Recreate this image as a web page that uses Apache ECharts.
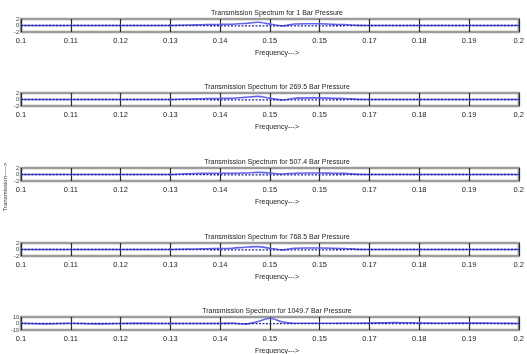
<!DOCTYPE html>
<html>
<head>
<meta charset="utf-8">
<script src="https://cdn.jsdelivr.net/npm/echarts@6/dist/echarts.min.js"></script>
<style>
  html, body { margin: 0; padding: 0; background: #fff; }
  #chart { width: 527px; height: 354px; }
</style>
</head>
<body>
<div id="chart"></div>
<script>
// Frequency samples shared by every panel
const freq = [0.100, 0.105, 0.110, 0.115, 0.120, 0.125, 0.130, 0.1325, 0.135, 0.1375,
  0.140, 0.1425, 0.145, 0.1475, 0.150, 0.1525, 0.155, 0.1575, 0.160, 0.1625,
  0.165, 0.1675, 0.170, 0.175, 0.180, 0.185, 0.190, 0.195, 0.200];

const freqTicks = ['0.1', '0.11', '0.12', '0.13', '0.14', '0.15', '0.15', '0.17', '0.18', '0.19', '0.2'];

const pressures = ['1', '269.5', '507.4', '768.5', '1049.7'];

// Transmission (solid trace) per pressure
const trans1 = [0, 0, 0, 0, 0, 0, 0, 0.1, 0.2, 0.3, 0.35, 0.4, 0.6, 1.0, 0.45, -0.1, 0.45, 0.55, 0.55, 0.35, 0.3, 0.05, 0, 0, 0, 0, 0, 0, 0];
const trans2 = [0, 0, 0, 0, 0, 0, 0, 0.1, 0.2, 0.3, 0.35, 0.4, 0.65, 0.95, 0.4, -0.15, 0.4, 0.5, 0.5, 0.4, 0.3, 0.05, 0, 0, 0, 0, 0, 0, 0];
const trans3 = [0, 0, 0, 0, 0, 0, 0, 0.15, 0.3, 0.35, 0.4, 0.4, 0.45, 0.65, 0.45, 0.15, 0.4, 0.45, 0.45, 0.4, 0.35, 0.05, 0, 0, 0, 0, 0, 0, 0];
const trans4 = [0, 0, 0, 0, 0, 0, 0, 0.1, 0.15, 0.25, 0.3, 0.4, 0.7, 0.9, 0.4, -0.1, 0.4, 0.45, 0.45, 0.4, 0.3, 0.05, 0, 0, 0, 0, 0, 0, 0];
const trans5 = [0.4, -0.6, 0.4, -0.6, 0, 0.2, 0, 0, 0, 0, 0, 0.3, -1.0, 2.8, 8.0, 2.2, 0.4, 0.5, 0.5, 0.4, 0.4, 0.3, 0.6, 1.4, 0.8, 0.3, 0.8, 0.4, 0];

// Reference (dotted trace) per pressure
const ref1 = [0, 0, 0, 0, 0, 0, 0, 0, -0.05, -0.05, -0.1, -0.1, -0.1, -0.1, -0.1, -0.1, -0.1, -0.1, -0.1, -0.1, -0.05, 0, 0, 0, 0, 0, 0, 0, 0];
const ref2 = [0, 0, 0, 0, 0, 0, 0, 0, -0.05, -0.05, -0.1, -0.1, -0.1, -0.1, -0.1, -0.1, -0.1, -0.1, -0.1, -0.1, -0.05, 0, 0, 0, 0, 0, 0, 0, 0];
const ref3 = [0, 0, 0, 0, 0, 0, 0, 0, -0.05, -0.05, -0.1, -0.1, -0.1, -0.1, -0.1, -0.1, -0.1, -0.1, -0.1, -0.1, -0.05, 0, 0, 0, 0, 0, 0, 0, 0];
const ref4 = [0, 0, 0, 0, 0, 0, 0, 0, -0.05, -0.05, -0.1, -0.1, -0.1, -0.1, -0.1, -0.1, -0.1, -0.1, -0.1, -0.1, -0.05, 0, 0, 0, 0, 0, 0, 0, 0];
const ref5 = [0, 0, 0, 0, 0, 0, 0, 0, 0, 0, 0, 0, -0.2, -0.2, -0.2, -0.2, -0.2, -0.2, -0.2, -0.2, 0, 0, 0, 0, 0, 0, 0, 0, 0];

const yRange1 = [-2, 2];
const yRange5 = [-10, 10];

const transSets = [trans1, trans2, trans3, trans4, trans5];
const refSets = [ref1, ref2, ref3, ref4, ref5];
const yRanges = [yRange1, yRange1, yRange1, yRange1, yRange5];

const FONT = '"Liberation Sans Narrow", "Liberation Sans", Arial, sans-serif';
const gridTops = [19, 93, 168, 243, 317];
const boxH = 13;

const grids = [], xAxes = [], yAxes = [], series = [], titles = [];

gridTops.forEach((top, i) => {
  grids.push({
    left: 21, right: 3, top: top, height: boxH,
    show: true, borderColor: '#9c9c9c', borderWidth: 2.5, backgroundColor: '#fff'
  });
  xAxes.push({
    type: 'value', gridIndex: i, min: 0.1, max: 0.2, interval: 0.01,
    axisLine: { show: false },
    axisTick: { show: false },
    splitLine: { show: true, lineStyle: { color: '#2a2a2a', width: 1.2 } },
    axisLabel: {
      show: true, margin: 5, fontSize: 7.5, color: '#222', fontFamily: FONT,
      showMinLabel: true, showMaxLabel: true,
      formatter: v => freqTicks[Math.round((v - 0.1) / 0.01)]
    }
  });
  const r = yRanges[i];
  yAxes.push({
    type: 'value', gridIndex: i, min: r[0], max: r[1], interval: r[1],
    axisLine: { show: false }, axisTick: { show: false },
    splitLine: { show: false },
    axisLabel: { fontSize: 5.5, margin: 2, color: '#333', fontFamily: FONT }
  });
  const pts = (arr) => freq.map((f, k) => [f, arr[k]]);
  series.push({
    type: 'line', xAxisIndex: i, yAxisIndex: i, data: pts(transSets[i]),
    symbol: 'none', smooth: 0.3, z: 3,
    lineStyle: { color: '#6262ea', width: 1.6 }
  });
  series.push({
    type: 'line', xAxisIndex: i, yAxisIndex: i, data: pts(refSets[i]),
    symbol: 'none', z: 4,
    lineStyle: { color: '#20209c', width: 1.4, type: [2, 1.5] }
  });
  titles.push({
    text: 'Transmission Spectrum for ' + pressures[i] + ' Bar Pressure',
    left: 272, top: top - 14, textAlign: 'center',
    textStyle: { fontSize: 7, fontWeight: 'normal', color: '#222', fontFamily: FONT }
  });
  titles.push({
    text: 'Frequency--->',
    left: 272, top: top + 26, textAlign: 'center',
    textStyle: { fontSize: 7, fontWeight: 'normal', color: '#222', fontFamily: FONT }
  });
});

const chart = echarts.init(document.getElementById('chart'), null, { renderer: 'canvas' });
chart.setOption({
  animation: false,
  backgroundColor: '#fff',
  title: titles,
  grid: grids,
  xAxis: xAxes,
  yAxis: yAxes,
  series: series,
  graphic: [{
    type: 'text', x: 2, y: 187, rotation: Math.PI / 2,
    style: {
      text: 'Transmission----->', fontSize: 6, fill: '#333', fontFamily: FONT,
      align: 'center', verticalAlign: 'top'
    }
  }]
});
</script>
</body>
</html>
